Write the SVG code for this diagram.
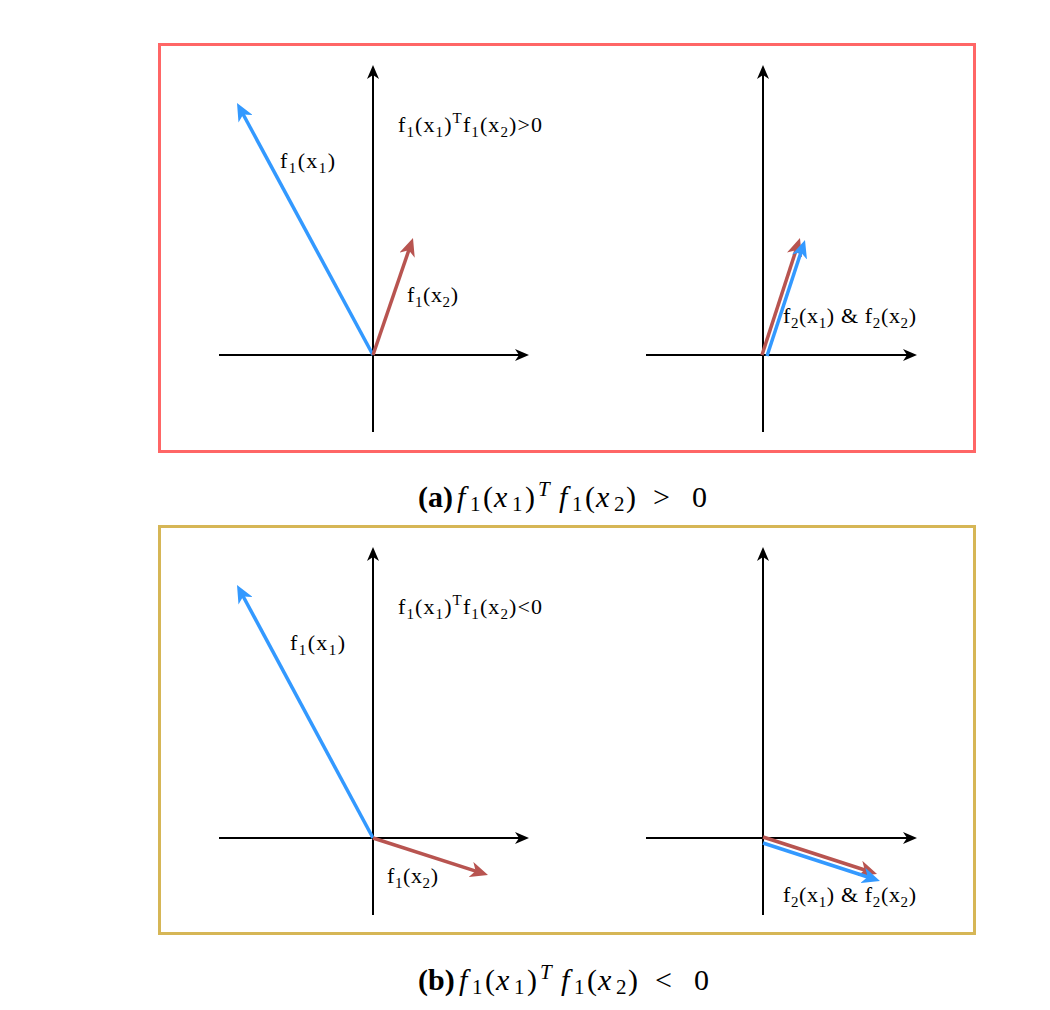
<svg xmlns="http://www.w3.org/2000/svg" width="1050" height="1010" viewBox="0 0 1050 1010">
<style>
.axis{stroke:#000;stroke-width:2;fill:none}
.vb{stroke:#3399FF;stroke-width:3.5;fill:none}
.vr{stroke:#B85450;stroke-width:3.5;fill:none}
.lbl{font-family:"Liberation Serif","Times New Roman",serif;font-size:22px;fill:#000}
.cap{font-family:"Liberation Serif","Times New Roman",serif;font-size:30px;fill:#000}
.sub{font-size:15px}
.cs{font-size:21px}
.it{font-style:italic}
</style>
<defs>
<marker id="ax" markerUnits="userSpaceOnUse" markerWidth="14" markerHeight="12" viewBox="0 0 14 12" refX="6" refY="6" orient="auto"><path d="M0,0 L14,6 L0,12 L4,6 z" fill="#000"/></marker>
<marker id="ab" markerUnits="userSpaceOnUse" markerWidth="18" markerHeight="16" viewBox="0 0 18 16" refX="10" refY="8" orient="auto"><path d="M0,0 L18,8 L0,16 L5,8 z" fill="#3399FF"/></marker>
<marker id="ar" markerUnits="userSpaceOnUse" markerWidth="18" markerHeight="16" viewBox="0 0 18 16" refX="10" refY="8" orient="auto"><path d="M0,0 L18,8 L0,16 L5,8 z" fill="#B85450"/></marker>
</defs>
<rect width="1050" height="1010" fill="#fff"/>

<g id="panel-a">
<rect x="159.5" y="44.5" width="815" height="407" fill="none" stroke="#FF6666" stroke-width="3"/>
</g>
<g id="panel-b">
<rect x="159.5" y="526.5" width="815" height="407" fill="none" stroke="#D6B656" stroke-width="3"/>
</g>

<g id="connectors">
<line class="axis" x1="373" y1="432" x2="373" y2="73" marker-end="url(#ax)"/>
<line class="axis" x1="219" y1="355" x2="521" y2="355" marker-end="url(#ax)"/>
<line class="vb" x1="373" y1="355" x2="240.8" y2="110" marker-end="url(#ab)"/>
<line class="vr" x1="373" y1="355" x2="410.4" y2="245.6" marker-end="url(#ar)"/>
<line class="axis" x1="763" y1="432" x2="763" y2="73" marker-end="url(#ax)"/>
<line class="axis" x1="646" y1="355" x2="909" y2="355" marker-end="url(#ax)"/>
<line class="vr" x1="762" y1="355" x2="797.5" y2="245.6" marker-end="url(#ar)"/>
<line class="vb" x1="767" y1="356" x2="802.5" y2="247.6" marker-end="url(#ab)"/>
<line class="axis" x1="373" y1="915" x2="373" y2="555" marker-end="url(#ax)"/>
<line class="axis" x1="219" y1="838" x2="521" y2="838" marker-end="url(#ax)"/>
<line class="vb" x1="373" y1="838" x2="240.8" y2="592" marker-end="url(#ab)"/>
<line class="vr" x1="373" y1="838" x2="480.4" y2="872.6" marker-end="url(#ar)"/>
<line class="axis" x1="763" y1="915" x2="763" y2="555" marker-end="url(#ax)"/>
<line class="axis" x1="646" y1="838" x2="909" y2="838" marker-end="url(#ax)"/>
<line class="vr" x1="763" y1="837" x2="869.4" y2="871.5" marker-end="url(#ar)"/>
<line class="vb" x1="763" y1="843" x2="872.4" y2="878.5" marker-end="url(#ab)"/>
</g>

<g id="labels-a">
<text class="lbl" x="398" y="132" textLength="144" lengthAdjust="spacing">f<tspan class="sub" dy="5">1</tspan><tspan dy="-5">(x</tspan><tspan class="sub" dy="5">1</tspan><tspan dy="-5">)</tspan><tspan class="sub" dy="-9">T</tspan><tspan dy="9">f</tspan><tspan class="sub" dy="5">1</tspan><tspan dy="-5">(x</tspan><tspan class="sub" dy="5">2</tspan><tspan dy="-5">)&gt;0</tspan></text>
<text class="lbl" x="280" y="168" textLength="55" lengthAdjust="spacing">f<tspan class="sub" dy="5">1</tspan><tspan dy="-5">(x</tspan><tspan class="sub" dy="5">1</tspan><tspan dy="-5">)</tspan></text>
<text class="lbl" x="407" y="302" textLength="51" lengthAdjust="spacing">f<tspan class="sub" dy="5">1</tspan><tspan dy="-5">(x</tspan><tspan class="sub" dy="5">2</tspan><tspan dy="-5">)</tspan></text>
<text class="lbl" x="783" y="323" textLength="133" lengthAdjust="spacing">f<tspan class="sub" dy="5">2</tspan><tspan dy="-5">(x</tspan><tspan class="sub" dy="5">1</tspan><tspan dy="-5">) &amp; f</tspan><tspan class="sub" dy="5">2</tspan><tspan dy="-5">(x</tspan><tspan class="sub" dy="5">2</tspan><tspan dy="-5">)</tspan></text>
</g>

<g id="labels-b">
<text class="lbl" x="398" y="614" textLength="144" lengthAdjust="spacing">f<tspan class="sub" dy="5">1</tspan><tspan dy="-5">(x</tspan><tspan class="sub" dy="5">1</tspan><tspan dy="-5">)</tspan><tspan class="sub" dy="-9">T</tspan><tspan dy="9">f</tspan><tspan class="sub" dy="5">1</tspan><tspan dy="-5">(x</tspan><tspan class="sub" dy="5">2</tspan><tspan dy="-5">)&lt;0</tspan></text>
<text class="lbl" x="290" y="650" textLength="55" lengthAdjust="spacing">f<tspan class="sub" dy="5">1</tspan><tspan dy="-5">(x</tspan><tspan class="sub" dy="5">1</tspan><tspan dy="-5">)</tspan></text>
<text class="lbl" x="387" y="883" textLength="51" lengthAdjust="spacing">f<tspan class="sub" dy="5">1</tspan><tspan dy="-5">(x</tspan><tspan class="sub" dy="5">2</tspan><tspan dy="-5">)</tspan></text>
<text class="lbl" x="783" y="902" textLength="133" lengthAdjust="spacing">f<tspan class="sub" dy="5">2</tspan><tspan dy="-5">(x</tspan><tspan class="sub" dy="5">1</tspan><tspan dy="-5">) &amp; f</tspan><tspan class="sub" dy="5">2</tspan><tspan dy="-5">(x</tspan><tspan class="sub" dy="5">2</tspan><tspan dy="-5">)</tspan></text>
</g>

<g id="caption-a">
<text class="cap" y="507"><tspan x="418" font-weight="bold">(a)</tspan><tspan x="457" class="it">f</tspan><tspan x="470" class="cs" dy="4">1</tspan><tspan x="483" dy="-4">(</tspan><tspan x="494" class="it">x</tspan><tspan x="512" class="cs" dy="4">1</tspan><tspan x="525" dy="-4">)</tspan><tspan x="538" class="it cs" dy="-11">T</tspan><tspan x="559" class="it" dy="11">f</tspan><tspan x="572" class="cs" dy="4">1</tspan><tspan x="585" dy="-4">(</tspan><tspan x="596" class="it">x</tspan><tspan x="614" class="cs" dy="4">2</tspan><tspan x="626" dy="-4">)</tspan><tspan x="653">&gt;</tspan><tspan x="692">0</tspan></text>
</g>
<g id="caption-b">
<text class="cap" y="990"><tspan x="418" font-weight="bold">(b)</tspan><tspan x="459" class="it">f</tspan><tspan x="472" class="cs" dy="4">1</tspan><tspan x="485" dy="-4">(</tspan><tspan x="496" class="it">x</tspan><tspan x="514" class="cs" dy="4">1</tspan><tspan x="527" dy="-4">)</tspan><tspan x="540" class="it cs" dy="-11">T</tspan><tspan x="561" class="it" dy="11">f</tspan><tspan x="574" class="cs" dy="4">1</tspan><tspan x="587" dy="-4">(</tspan><tspan x="598" class="it">x</tspan><tspan x="616" class="cs" dy="4">2</tspan><tspan x="628" dy="-4">)</tspan><tspan x="655">&lt;</tspan><tspan x="694">0</tspan></text>
</g>
</svg>
